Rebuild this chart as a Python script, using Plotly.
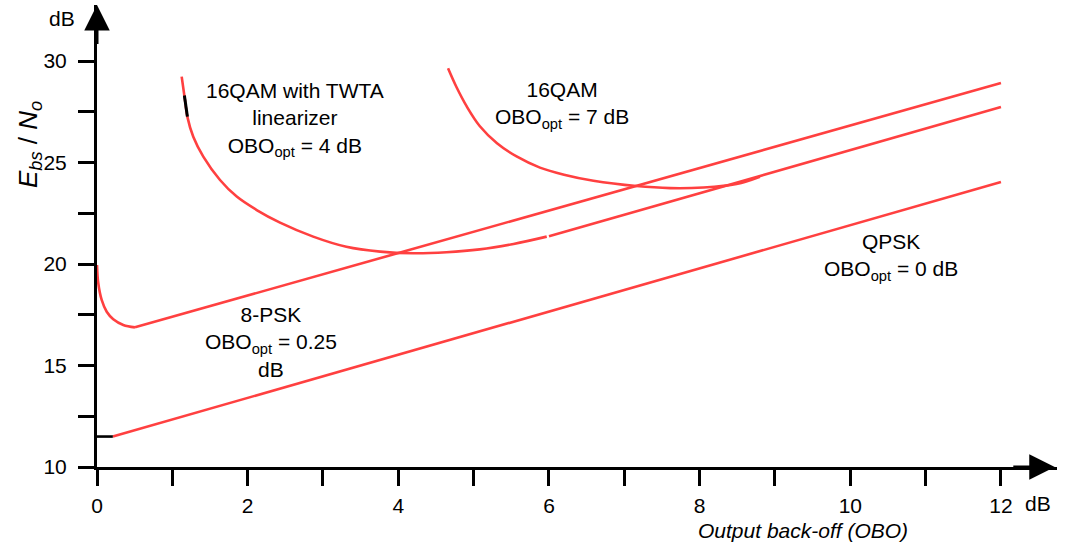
import plotly.graph_objects as go

# ---- data (dB) ----
qpsk_x = [0.21, 12.0]
qpsk_y = [11.5, 24.04]
qpsk_mark_x = [0.0, 0.21]
qpsk_mark_y = [11.5, 11.5]

psk8_curve_x = [0.0, 0.017, 0.062, 0.129, 0.216, 0.349, 0.504]
psk8_curve_y = [19.95, 19.05, 18.23, 17.65, 17.28, 17.0, 16.88]
psk8_line_x = [0.504, 12.0]
psk8_line_y = [16.88, 28.92]

qamlin_curve_x = [1.124, 1.168, 1.199, 1.278, 1.411, 1.633, 1.855, 2.12, 2.43, 2.87,
                  3.31, 3.76, 4.20, 4.64, 5.08, 5.53, 5.97]
qamlin_curve_y = [29.23, 28.08, 27.26, 26.27, 25.29, 24.14, 23.32, 22.66, 22.04, 21.35,
                  20.85, 20.61, 20.53, 20.58, 20.72, 20.99, 21.35]
qamlin_mark_x = [1.16, 1.20]
qamlin_mark_y = [28.3, 27.26]
qamlin_line_x = [6.0, 12.0]
qamlin_line_y = [21.37, 27.73]

qam_curve_x = [4.66, 4.77, 4.91, 5.08, 5.31, 5.57, 5.88, 6.20, 6.59, 7.16, 7.61, 8.05, 8.49, 8.80]
qam_curve_y = [29.64, 28.73, 27.75, 26.80, 25.95, 25.30, 24.75, 24.40, 24.10, 23.84, 23.74, 23.77, 23.94, 24.30]

x_ticks = list(range(0, 13))
x_tick_text = [str(v) if v % 2 == 0 else "" for v in x_ticks]
y_ticks = [10, 12.5, 15, 17.5, 20, 22.5, 25, 27.5, 30]
y_tick_text = ["10", "", "15", "", "20", "", "25", "", "30"]

RED = "#ff4040"
FONT = "Liberation Sans, Arial, sans-serif"
LW = 2.6

fig = go.Figure()

def add(x, y, color=RED, shape="linear", width=LW):
    line = dict(color=color, width=width)
    if shape == "spline":
        line.update(shape="spline", smoothing=1.0)
    fig.add_trace(go.Scatter(x=x, y=y, mode="lines", line=line,
                             showlegend=False, hoverinfo="skip"))

add(qpsk_x, qpsk_y)
add(qpsk_mark_x, qpsk_mark_y, color="black")
add(psk8_curve_x, psk8_curve_y, shape="spline")
add(psk8_line_x, psk8_line_y)
add(qamlin_curve_x, qamlin_curve_y, shape="spline")
add(qamlin_line_x, qamlin_line_y)
add(qamlin_mark_x, qamlin_mark_y, color="black", width=3)
add(qam_curve_x, qam_curve_y, shape="spline")

X_MAX = 12.744
Y_MAX = 32.76

fig.update_layout(
    width=1065, height=548,
    margin=dict(l=97, r=8, t=5, b=81),
    paper_bgcolor="white", plot_bgcolor="white",
    font=dict(family=FONT, size=20, color="black"),
    xaxis=dict(range=[0, X_MAX], showgrid=False, zeroline=False,
               showline=True, linecolor="black", linewidth=3,
               ticks="outside", ticklen=16, tickwidth=2.5, tickcolor="black",
               tickvals=x_ticks, ticktext=x_tick_text, ticklabelstandoff=2,
               tickfont=dict(family=FONT, size=21)),
    yaxis=dict(range=[10, Y_MAX], showgrid=False, zeroline=False,
               showline=True, linecolor="black", linewidth=3,
               ticks="outside", ticklen=16, tickwidth=2.5, tickcolor="black",
               tickvals=y_ticks, ticktext=y_tick_text, ticklabelstandoff=7,
               tickfont=dict(family=FONT, size=21)),
)

# axis arrows
fig.add_annotation(x=X_MAX - 0.03, y=10, ax=X_MAX - 0.6, ay=10, xref="x", yref="y",
                   axref="x", ayref="y", showarrow=True, arrowhead=2, arrowsize=1.7,
                   arrowwidth=3, arrowcolor="black", text="")
fig.add_annotation(x=0, y=Y_MAX, ax=0, ay=Y_MAX - 2.0, xref="x", yref="y",
                   axref="x", ayref="y", showarrow=True, arrowhead=2, arrowsize=1.7,
                   arrowwidth=3, arrowcolor="black", text="")

def label(text, xpx, ypx, size=21, angle=0):
    fig.add_annotation(text=text, xref="paper", yref="paper",
                       x=(xpx - 97) / 960, y=(548 - 81 - ypx) / 462,
                       showarrow=False, xanchor="center", yanchor="middle",
                       textangle=angle,
                       font=dict(family=FONT, size=size, color="black"))

label("dB", 62, 19, size=21)
label("dB", 1038, 503, size=21)
label("<i>Output back-off (OBO)</i>", 803, 530, size=21)
label("<i>E</i><sub><i>bs</i></sub> / <i>N</i><sub><i>o</i></sub>", 30, 145, size=26, angle=-90)
label("16QAM with TWTA<br>linearizer<br>OBO<sub>opt</sub> = 4 dB", 295, 120, size=21)
label("16QAM<br>OBO<sub>opt</sub> = 7 dB", 562, 105, size=21)
label("QPSK<br>OBO<sub>opt</sub> = 0 dB", 891, 257, size=21)
label("8-PSK<br>OBO<sub>opt</sub> = 0.25<br>dB", 271, 342, size=21)

fig.write_html("out.html")
